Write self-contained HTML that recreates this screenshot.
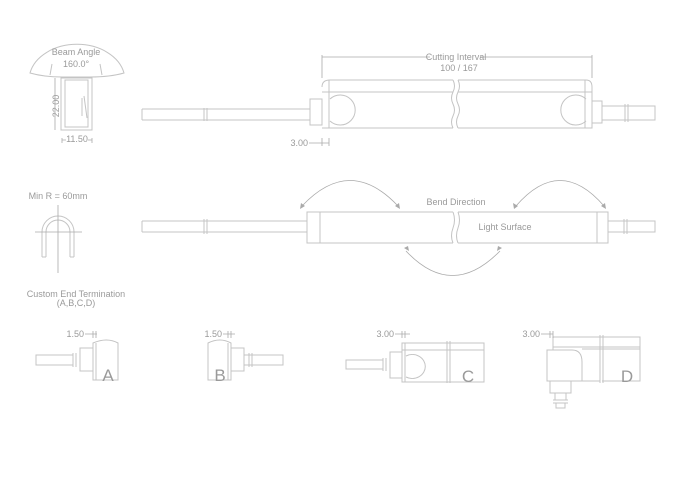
<!DOCTYPE html>
<html><head><meta charset="utf-8"><style>
html,body{margin:0;padding:0;background:#fff;width:700px;height:500px;overflow:hidden}
svg{display:block}
text{font-family:"Liberation Sans",sans-serif;fill:#9a9a9a;font-size:9px}
.l{fill:none;stroke:#c4c4c4;stroke-width:1}
.d{fill:none;stroke:#aaa;stroke-width:0.8}
</style></head><body>
<svg width="700" height="500" viewBox="0 0 700 500">
<!-- Beam angle -->
<path class="l" d="M30,73 A48,36 0 0 1 124,73 Q110,77 90,77 L62,77 Q44,77 30,73Z"/>
<path class="l" d="M50,75 L52,64 M102,75 L100,64"/>
<text x="76" y="55" text-anchor="middle">Beam Angle</text>
<text x="76" y="67" text-anchor="middle">160.0°</text>
<rect class="l" x="61" y="78" width="31" height="52"/>
<rect class="l" x="65" y="80" width="23" height="47"/>
<path class="l" d="M82,98 L82,116 M84,96 L87,118"/>
<path class="d" d="M55,78 V130 M62,138 V143 M92,138 V143"/>
<text x="59" y="106" text-anchor="middle" transform="rotate(-90 59 106)">22.00</text>
<text x="77" y="142" text-anchor="middle">11.50</text>
<path class="d" d="M62,140 H66 M88,140 H92"/>
<!-- Top strip -->
<path class="l" d="M142,109 H310 M142,120 H310 M142,109 V120 M204,108 v13 M207,108 v13"/>
<rect class="l" x="310" y="99" width="12" height="26"/>
<path class="l" d="M322,87 Q322,80 330,80 H453 M458,80 H586 Q592,80 592,87 V128 H458 M453,128 H322 Z"/>
<path class="l" d="M322,92 H453 M458,92 H592 M329,80 V128 M585,80 V128"/>
<path class="l" d="M453,80 q3,6 0,12 q-3,6 0,12 q3,6 0,12 q-3,6 0,12 M458,80 q3,6 0,12 q-3,6 0,12 q3,6 0,12 q-3,6 0,12"/>
<path class="l" d="M330,99 A15,15 0 1 1 330,121"/>
<path class="l" d="M586,99 A15,15 0 1 0 586,121"/>
<rect class="l" x="592" y="101" width="10" height="22"/>
<path class="l" d="M602,106 H655 V120 H602 M625,104 v18 M628,104 v18"/>
<path class="d" d="M322,55 V78 M592,55 V78 M322,57 H430 M480,57 H592"/>
<text x="456" y="60" text-anchor="middle">Cutting Interval</text>
<text x="459" y="71" text-anchor="middle">100 / 167</text>
<text x="308" y="146" text-anchor="end">3.00</text>
<path class="d" d="M309,143 H329 M322,138 V146 M329,138 V146"/>
<!-- Middle -->
<text x="58" y="199" text-anchor="middle">Min R = 60mm</text>
<path class="l" d="M42,257 V232 A16,16 0 0 1 74,232 V257 M46,257 V232 A12,12 0 0 1 70,232 V257 M42,257 H46 M70,257 H74"/>
<path class="d" d="M58,205 V273 M35,232 H82"/>
<path class="l" d="M142,221 H307 M142,232 H307 M142,221 V232 M204,219 v15 M207,219 v15"/>
<rect class="l" x="307" y="212" width="13" height="31"/>
<path class="l" d="M320,212 H453 M458,212 H597 V243 H458 M453,243 H320 M320,212 V243 M597,212 V243"/>
<path class="l" d="M453,212 q3,8 0,16 q-3,8 0,15 M458,212 q3,8 0,16 q-3,8 0,15"/>
<rect class="l" x="597" y="212" width="11" height="31"/>
<path class="l" d="M608,221 H655 V232 H608 M624,219 v15 M627,219 v15"/>
<text x="456" y="205" text-anchor="middle">Bend Direction</text>
<text x="505" y="230" text-anchor="middle">Light Surface</text>
<path class="d" d="M302,206 Q350,155 398,206"/>
<path class="d" d="M516,206 Q560,155 604,206"/>
<path class="d" d="M406,251 Q452,300 500,251"/>
<path fill="#aaa" d="M300,209 l1,-6 l4,3z M400,209 l-5,-3 l4,-3z M514,209 l-1,-6 l5,3z M606,209 l-5,-3 l4,-3z M404,248 l5,3 l-1,-5z M502,248 l-5,3 l1,-5z"/>
<!-- Bottom -->
<text x="76" y="297" text-anchor="middle">Custom End Termination</text>
<text x="76" y="306" text-anchor="middle">(A,B,C,D)</text>
<!-- A -->
<path class="l" d="M36,355 H73 V365 H36Z M73,353 v14 M76,353 v14"/>
<rect class="l" x="80" y="348" width="13" height="23"/>
<path class="l" d="M93,343 Q107,337 118,343 V380 H93Z M96,343 V380"/>
<text x="108" y="381" text-anchor="middle" style="font-size:17px">A</text>
<text x="84" y="337" text-anchor="end">1.50</text>
<path class="d" d="M85,334 H97 M93,331 V338 M96,331 V338"/>
<!-- B -->
<path class="l" d="M208,343 Q220,337 231,343 V380 H208Z M228,343 V380"/>
<rect class="l" x="231" y="348" width="13" height="23"/>
<path class="l" d="M244,355 H283 V365 H244 M249,353 v14 M252,353 v14"/>
<text x="220" y="381" text-anchor="middle" style="font-size:17px">B</text>
<text x="222" y="337" text-anchor="end">1.50</text>
<path class="d" d="M223,334 H235 M228,331 V338 M231,331 V338"/>
<!-- C -->
<path class="l" d="M346,360 H383 V369 H346Z M383,358 v13 M386,358 v13"/>
<rect class="l" x="390" y="352" width="12" height="26"/>
<path class="l" d="M402,343 H484 V382 H402Z M402,350 H484 M405,343 V382 M447,341 V383 M450,341 V383 M402,382 H433"/>
<path class="l" d="M406,356 A13,12 0 1 1 406,377"/>
<text x="468" y="382" text-anchor="middle" style="font-size:17px">C</text>
<text x="394" y="337" text-anchor="end">3.00</text>
<path class="d" d="M395,334 H410 M402,331 V338 M405,331 V338"/>
<!-- D -->
<path class="l" d="M553,337 H640 V381 H602 M640,347 H553 M640,349 H582 M553,337 V350 M600,335 V383 M603,335 V383"/>
<path class="l" d="M547,350 H572 Q582,350 582,362 V381 H547Z M582,381 H600"/>
<path class="l" d="M550,381 H571 V393 H550Z M555,393 H566 V400 H555Z M553,400 H568 M553,403 H568 M556,403 V408 H565 V403"/>
<text x="627" y="382" text-anchor="middle" style="font-size:17px">D</text>
<text x="540" y="337" text-anchor="end">3.00</text>
<path class="d" d="M541,334 H553 M550,331 V338 M553,331 V338"/>
</svg>
</body></html>
